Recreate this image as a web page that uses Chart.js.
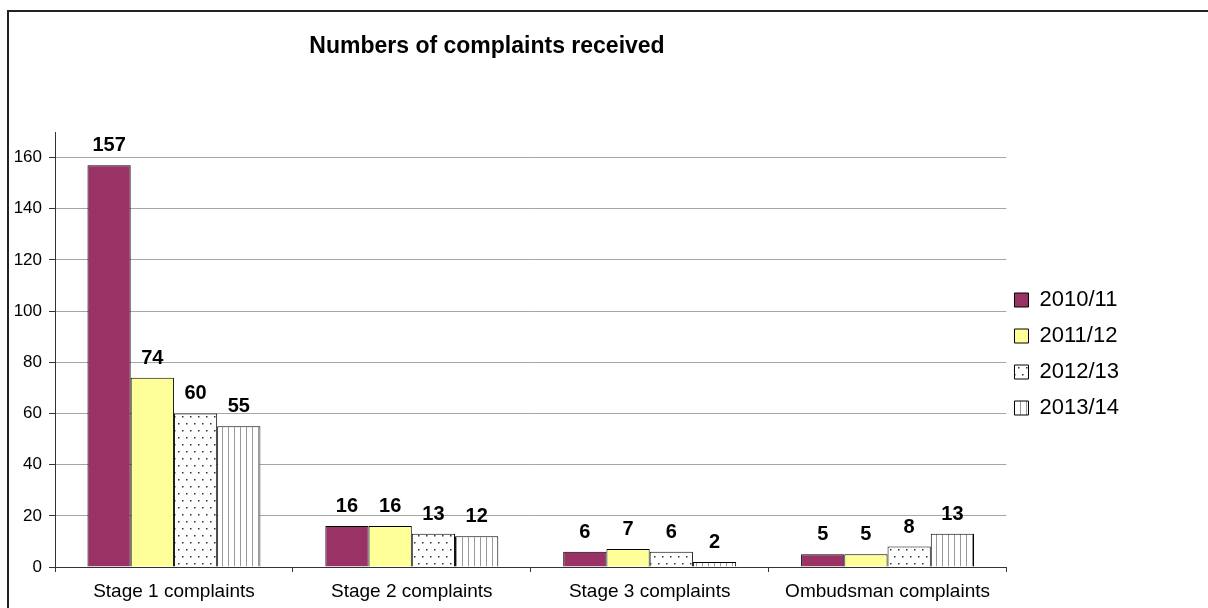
<!DOCTYPE html>
<html>
<head>
<meta charset="utf-8">
<script src="https://cdn.jsdelivr.net/npm/chart.js@4"></script>
<style>
  body { margin: 0; background: #fff; }
  #frame { position: absolute; left: 7px; top: 10px; width: 1400px; height: 800px; border-left: 2px solid #222; border-top: 2px solid #222; }
  #wrap { position: absolute; left: 0; top: 0; width: 1208px; height: 608px; }
</style>
</head>
<body>
<div id="frame"></div>
<div id="wrap"><canvas id="myChart" width="1208" height="608"></canvas></div>
<script>
let categories = ["Stage 1 complaints", "Stage 2 complaints", "Stage 3 complaints", "Ombudsman complaints"];
let years = ["2010/11", "2011/12", "2012/13", "2013/14"];
let y2010 = [157, 16, 6, 5];
let y2011 = [74, 16, 7, 5];
let y2012 = [60, 13, 6, 8];
let y2013 = [55, 12, 2, 13];
let yTicksMax = 160;

//small tiles for the two patterned series
function makePattern(kind) {
  let c = document.createElement("canvas");
  let g = c.getContext("2d");
  if (kind == "dots") {
    c.width = 8; c.height = 14;
    g.fillStyle = "#fff"; g.fillRect(0, 0, 8, 14);
    g.fillStyle = "#333";
    g.fillRect(2, 3, 1.5, 1.5);
    g.fillRect(6, 10, 1.5, 1.5);
  } else {
    c.width = 6; c.height = 6;
    g.fillStyle = "#fff"; g.fillRect(0, 0, 6, 6);
    g.fillStyle = "#999";
    g.fillRect(0, 0, 1, 6);
  }
  return g.createPattern(c, "repeat");
}

//title is placed off-centre like the original
const titlePlugin = {
  id: "titleText",
  afterDraw(chart) {
    let ctx = chart.ctx;
    ctx.save();
    ctx.font = "bold 23px 'Liberation Sans', Arial, sans-serif";
    ctx.fillStyle = "#000";
    ctx.textAlign = "center";
    ctx.textBaseline = "alphabetic";
    ctx.fillText("Numbers of complaints received", 487, 53);
    ctx.restore();
  }
};

//move the legend a bit left and up, as in the original
const legendNudge = {
  id: "legendNudge",
  afterLayout(chart) {
    chart.legend.left -= 6;
    chart.legend.right -= 6;
    chart.legend.top -= 16;
    chart.legend.bottom -= 16;
  }
};

//value above each bar
const valueLabels = {
  id: "valueLabels",
  afterDatasetsDraw(chart) {
    let ctx = chart.ctx;
    ctx.save();
    ctx.font = "bold 20px 'Liberation Sans', Arial, sans-serif";
    ctx.fillStyle = "#000";
    ctx.textAlign = "center";
    ctx.textBaseline = "alphabetic";
    chart.data.datasets.forEach((ds, i) => {
      chart.getDatasetMeta(i).data.forEach((bar, j) => {
        ctx.fillText(ds.data[j], bar.x, bar.y - 14);
      });
    });
    ctx.restore();
  }
};

let myChart = document.getElementById("myChart").getContext("2d");
let fillColors = ["#993366", "#FFFF99", makePattern("dots"), makePattern("stripes")];
let series = [y2010, y2011, y2012, y2013];

let complaintsChart = new Chart(myChart, {
  type: "bar",
  data: {
    labels: categories,
    datasets: years.map((y, i) => ({
      label: y,
      data: series[i],
      backgroundColor: fillColors[i],
      borderColor: "#000",
      borderWidth: 1,
      categoryPercentage: 0.727,
      barPercentage: 1.0
    }))
  },
  options: {
    responsive: false,
    animation: false,
    events: [],
    layout: { padding: { top: 132, right: 73, bottom: 0, left: 0 } },
    plugins: {
      title: { display: false },
      tooltip: { enabled: false },
      legend: {
        position: "right",
        align: "center",
        labels: {
          boxWidth: 14,
          boxHeight: 14,
          padding: 14,
          color: "#000",
          font: { family: "'Liberation Sans', Arial, sans-serif", size: 22 }
        }
      }
    },
    scales: {
      x: {
        offset: true,
        grid: { display: true, drawOnChartArea: false, tickLength: 5, tickColor: "#333", offset: true },
        border: { color: "#333", width: 1 },
        ticks: { color: "#000", padding: 8, font: { family: "'Liberation Sans', Arial, sans-serif", size: 19 } },
        afterFit: function(scale) { scale.height = 41; }
      },
      y: {
        min: 0,
        max: 170,
        ticks: { stepSize: 20, color: "#000", padding: 7, font: { family: "'Liberation Sans', Arial, sans-serif", size: 17 } },
        grid: { color: "#a6a6a6", tickLength: 6, tickColor: "#333" },
        border: { color: "#333", width: 1 },
        afterBuildTicks: function(scale) { scale.ticks = scale.ticks.filter(t => t.value <= yTicksMax); },
        afterFit: function(scale) { scale.width = 55; }
      }
    }
  },
  plugins: [titlePlugin, legendNudge, valueLabels]
});
</script>
</body>
</html>
